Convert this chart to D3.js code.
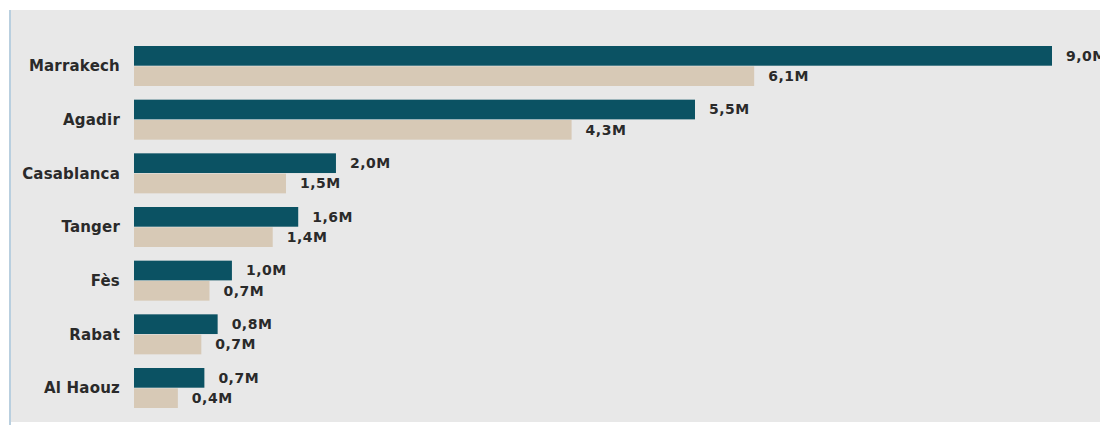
<!DOCTYPE html>
<html>
<head>
<meta charset="utf-8">
<script src="https://cdn.jsdelivr.net/npm/d3@7"></script>
<style>
  html, body { margin: 0; padding: 0; background: #ffffff; }
  svg { display: block; }
  text { font-family: "DejaVu Sans", sans-serif; font-weight: bold; }
</style>
</head>
<body>
<svg id="chart" width="1100" height="432"></svg>
<script>
const categories = ["Marrakech", "Agadir", "Casablanca", "Tanger", "Fès", "Rabat", "Al Haouz"];
const seriesNames = ["current", "previous"];
const currentValues = [9.0, 5.5, 1.98, 1.61, 0.96, 0.82, 0.69];
const previousValues = [6.08, 4.29, 1.49, 1.36, 0.74, 0.66, 0.43];
const seriesColors = ["#0b5263", "#d7c9b6"];

const fmt = v => (Math.round(v * 10) / 10).toFixed(1).replace(".", ",") + "M";

const svg = d3.select("#chart");
const W = 1100, H = 432;

// panel background
svg.append("rect").attr("x", 11).attr("y", 10).attr("width", W - 11).attr("height", 412).attr("fill", "#e8e8e8");
svg.append("rect").attr("x", 9).attr("y", 10).attr("width", 2).attr("height", 415).attr("fill", "#b9cfdf");

const x = d3.scaleLinear().domain([0, 9.0]).range([134, 1052]);
const y = d3.scaleBand().domain(categories).range([46, 408]).paddingInner(0.2547).paddingOuter(0);
const ys = d3.scaleBand().domain(seriesNames).range([0, y.bandwidth()]).paddingInner(0.03);

const rows = categories.map((c, i) => ({ cat: c, vals: [currentValues[i], previousValues[i]] }));

const g = svg.append("g");

const yAxis = d3.axisLeft(y).tickSize(0).tickPadding(0);
const ax = g.append("g").attr("transform", "translate(120,0)").call(yAxis);
ax.select(".domain").remove();
ax.selectAll("text").attr("font-size", 15).attr("fill", "#2a2a2a")
  .style("font-family", "'DejaVu Sans', sans-serif").style("font-weight", "bold")
  .style("letter-spacing", "0.2px").attr("dy", "0.35em");

const grp = g.selectAll("g.row").data(rows).join("g").attr("class", "row")
  .attr("transform", d => `translate(0,${y(d.cat)})`);

grp.selectAll("rect").data(d => d.vals.map((v, j) => ({ v, s: seriesNames[j], j })))
  .join("rect")
  .attr("x", x(0))
  .attr("y", d => ys(d.s))
  .attr("width", d => x(d.v) - x(0))
  .attr("height", ys.bandwidth())
  .attr("fill", d => seriesColors[d.j]);

grp.selectAll("text.val").data(d => d.vals.map((v, j) => ({ v, s: seriesNames[j], j })))
  .join("text").attr("class", "val")
  .attr("x", d => x(d.v) + 14)
  .attr("y", d => ys(d.s) + ys.bandwidth() / 2)
  .attr("dy", "0.35em")
  .attr("font-size", 14)
  .style("letter-spacing", "0.5px")
  .attr("fill", "#2a2a2a")
  .text(d => fmt(d.v));
</script>
</body>
</html>
